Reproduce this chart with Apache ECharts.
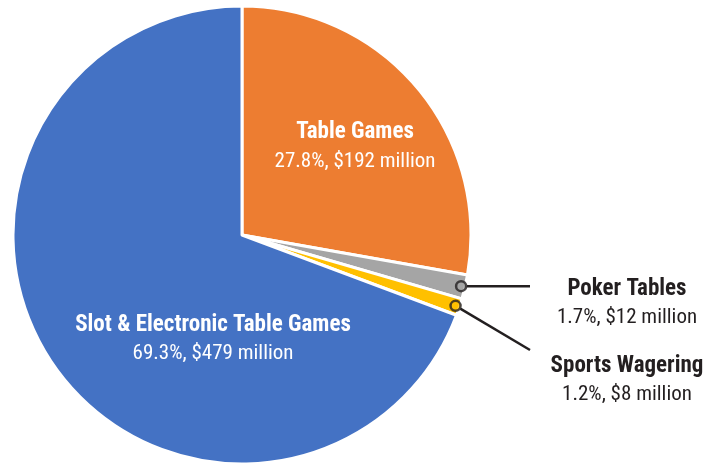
<!DOCTYPE html>
<html>
<head>
<meta charset="utf-8">
<script src="https://cdn.jsdelivr.net/npm/echarts@6/dist/echarts.min.js"></script>
<style>
  html, body { margin: 0; padding: 0; background: #ffffff; }
  #chart { width: 712px; height: 465px; }
</style>
</head>
<body>
<div id="chart"></div>
<script>
// Gaming revenue by segment
const categories = ['Table Games', 'Poker Tables', 'Sports Wagering', 'Slot & Electronic Table Games'];
const sharePct = [27.8, 1.7, 1.2, 69.3];
const revenueMillions = [192, 12, 8, 479];
const sliceColors = ['#ED7D31', '#A5A5A5', '#FFC000', '#4472C4'];
const calloutOutside = [false, true, true, false];

// Pie geometry (pixels)
const CX = 242, CY = 235, R = 229;
const MARKER_R = 225;
const FONT = "'Liberation Sans Narrow', 'Arial Narrow', 'Roboto Condensed', 'Liberation Sans', sans-serif";

// Label block centres, as offsets from the pie centre
const labelOffset = [[113, -88], [385, 68.5], [385, 145.5], [-29, 104.5]];
// Where each callout leader line ends (offset from pie centre); null y = level with marker
const leaderEnd = [null, [288, null], [288, 115], null];

// Mid angle of each slice, in percent of the full turn, clockwise from 12 o'clock
const total = sharePct.reduce((a, b) => a + b, 0);
const midPct = [];
let run = 0;
sharePct.forEach(v => { midPct.push((run + v / 2) / total * 100); run += v; });

function markerPoint(i) {
  const a = midPct[i] / 100 * 2 * Math.PI;
  return [CX + MARKER_R * Math.sin(a), CY - MARKER_R * Math.cos(a)];
}

const pieData = categories.map((name, i) => ({
  name: name,
  value: sharePct[i],
  itemStyle: { color: sliceColors[i] },
  label: {
    position: calloutOutside[i] ? 'outside' : 'inside',
    color: calloutOutside[i] ? '#231f20' : '#ffffff'
  },
  labelLine: { show: calloutOutside[i] }
}));

const chart = echarts.init(document.getElementById('chart'), null, { renderer: 'canvas' });

chart.setOption({
  backgroundColor: '#ffffff',
  animation: false,
  polar: { center: [CX, CY], radius: R },
  angleAxis: { type: 'value', min: 0, max: 100, startAngle: 90, clockwise: true, show: false },
  radiusAxis: { type: 'value', min: 0, max: R, show: false },
  series: [
    {
      type: 'pie',
      center: [CX, CY],
      radius: R,
      startAngle: 90,
      clockwise: true,
      avoidLabelOverlap: false,
      silent: true,
      itemStyle: { borderColor: '#ffffff', borderWidth: 3 },
      label: {
        show: true,
        fontFamily: FONT,
        lineHeight: 29,
        formatter: p => {
          const i = p.dataIndex;
          return '{b|' + categories[i] + '}\n{v|' + sharePct[i].toFixed(1) + '%, $' + revenueMillions[i] + ' million}';
        },
        rich: {
          b: { fontFamily: FONT, fontSize: 23, fontWeight: 'bold', lineHeight: 29 },
          v: { fontFamily: FONT, fontSize: 21, lineHeight: 29 }
        }
      },
      labelLine: { show: false, lineStyle: { color: '#231f20', width: 2.5 } },
      labelLayout: params => {
        const i = params.dataIndex;
        const off = labelOffset[i];
        const out = {
          x: CX + off[0],
          y: CY + off[1],
          align: 'center',
          verticalAlign: 'middle'
        };
        if (calloutOutside[i]) {
          const m = markerPoint(i);
          const e = [CX + leaderEnd[i][0], leaderEnd[i][1] == null ? m[1] : CY + leaderEnd[i][1]];
          const dx = e[0] - m[0], dy = e[1] - m[1];
          const len = Math.sqrt(dx * dx + dy * dy);
          const s = [m[0] + dx / len * 5, m[1] + dy / len * 5];
          out.labelLinePoints = [s, e];
        }
        return out;
      },
      data: pieData,
      z: 2
    },
    {
      // small ring markers where the callout lines meet their slices
      type: 'scatter',
      coordinateSystem: 'polar',
      silent: true,
      symbol: 'circle',
      symbolSize: 10,
      z: 5,
      data: categories.map((n, i) => i).filter(i => calloutOutside[i]).map(i => ({
        value: [MARKER_R, midPct[i]],
        itemStyle: { color: sliceColors[i], borderColor: '#231f20', borderWidth: 2.5 }
      }))
    }
  ]
});
</script>
</body>
</html>
